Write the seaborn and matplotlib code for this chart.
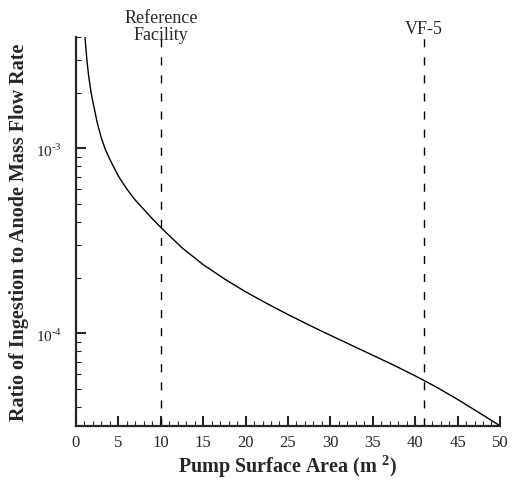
import numpy as np
import pandas as pd
import matplotlib
matplotlib.use("Agg")
import matplotlib.pyplot as plt
import matplotlib.ticker as mticker
import seaborn as sns

# --- data ---
pump_area = [1.0, 1.15, 1.3, 1.5, 1.75, 2.0, 2.5, 3.0, 3.5, 4.0, 5.0, 6.0, 7.0,
             8.0, 9.0, 10.0, 12.5, 15.0, 17.5, 20.0, 22.5, 25.0, 27.5, 30.0,
             32.5, 35.0, 37.5, 40.0, 42.5, 45.0, 47.5, 50.0]
ingestion_ratio = [4.365e-3, 3.548e-3, 2.951e-3, 2.455e-3, 2.042e-3, 1.778e-3,
                   1.380e-3, 1.135e-3, 9.77e-4, 8.71e-4, 7.08e-4, 6.03e-4,
                   5.25e-4, 4.68e-4, 4.17e-4, 3.74e-4, 2.904e-4, 2.355e-4,
                   1.972e-4, 1.679e-4, 1.452e-4, 1.265e-4, 1.109e-4, 9.77e-5,
                   8.63e-5, 7.62e-5, 6.73e-5, 5.90e-5, 5.13e-5, 4.40e-5,
                   3.74e-5, 3.17e-5]
facility_area = [10.0, 41.0]
facility_names = ["Reference\nFacility", "VF-5"]

df = pd.DataFrame({"area": pump_area, "ratio": ingestion_ratio})

sns.set_style("ticks")
plt.rcParams["font.family"] = ["Liberation Serif", "DejaVu Serif"]
plt.rcParams["mathtext.fontset"] = "custom"
plt.rcParams["mathtext.rm"] = "Liberation Serif"
plt.rcParams["mathtext.bf"] = "Liberation Serif:bold"

fig = plt.figure(figsize=(5.17, 4.85), dpi=100)
ax = fig.add_axes([0.147, 0.1196, 0.82, 0.802])

sns.lineplot(data=df, x="area", y="ratio", color="black", linewidth=1.0, ax=ax)

# facility marker lines, label offsets in points
label_shift = {"Reference\nFacility": -4, "VF-5": 0}
for xa, name in zip(facility_area, facility_names):
    ax.axvline(xa, color="black", linewidth=1.0, dashes=(5.8, 7.2))
    ax.annotate(name, xy=(xa, 1.0), xycoords=("data", "axes fraction"),
                xytext=(0, label_shift[name]), textcoords="offset points",
                ha="center", va="bottom", fontsize=13, linespacing=0.95)

ax.set_yscale("log")
ax.set_xlim(0, 50)
ax.set_ylim(3.16e-5, 4.0e-3)

ax.xaxis.set_major_locator(mticker.MultipleLocator(5))
ax.xaxis.set_minor_locator(mticker.MultipleLocator(1))
ax.yaxis.set_major_locator(mticker.LogLocator(base=10))
ax.yaxis.set_minor_locator(mticker.LogLocator(base=10, subs=np.arange(2, 10)))
ax.yaxis.set_minor_formatter(mticker.NullFormatter())
ax.yaxis.set_major_formatter(
    mticker.FuncFormatter(lambda v, p: "10$^{\u2010%d}$" % abs(round(np.log10(v)))))

ax.tick_params(axis="x", which="major", direction="in", length=7.5, width=1.5,
               labelsize=12, pad=6)
ax.tick_params(axis="y", which="major", direction="in", length=7.5, width=1.5,
               labelsize=11, pad=10)
ax.tick_params(which="minor", direction="in", length=3.8, width=0.8)

for side in ["top", "right"]:
    ax.spines[side].set_visible(False)
for side in ["left", "bottom"]:
    ax.spines[side].set_linewidth(1.6)

ax.set_xlabel("Pump Surface Area (m $^{\\mathbf{2}}$)", fontsize=14.5,
              fontweight="bold", labelpad=1)
ax.set_ylabel("Ratio of Ingestion to Anode Mass Flow Rate", fontsize=14.5,
              fontweight="bold")
ax.yaxis.set_label_coords(-0.11, 0.5)

fig.savefig("out.png", dpi=100)
